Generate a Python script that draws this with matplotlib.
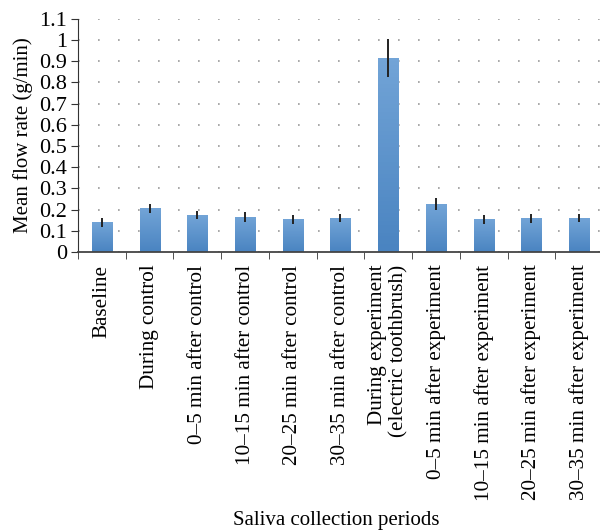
import matplotlib.pyplot as plt
import numpy as np
from matplotlib.colors import LinearSegmentedColormap

plt.rc('font', family='Liberation Serif', size=16)

periods = ["Baseline", "During control", "0\u20135 min after control",
           "10\u201315 min after control", "20\u201325 min after control",
           "30\u201335 min after control",
           "During experiment\n(electric toothbrush)",
           "0\u20135 min after experiment", "10\u201315 min after experiment",
           "20\u201325 min after experiment", "30\u201335 min after experiment"]
mean_flow = [0.141, 0.207, 0.174, 0.165, 0.155, 0.160, 0.915, 0.226, 0.155, 0.160, 0.160]
err_flow = [0.022, 0.021, 0.020, 0.025, 0.021, 0.020, 0.091, 0.029, 0.020, 0.022, 0.018]

fig = plt.figure(figsize=(6, 5.32), dpi=100)
ax = fig.add_axes([0.13, 0.526, 0.875, 0.439])

x = np.arange(len(periods))
bars = ax.bar(x, mean_flow, width=0.42, color='#5b94cd', zorder=2)

# vertical gradient inside each bar
grad = LinearSegmentedColormap.from_list('g', ['#4a84c1', '#72a4d7'])
for b in bars:
    bx, by = b.get_x(), b.get_y()
    im = ax.imshow(np.linspace(0, 1, 50).reshape(-1, 1), cmap=grad, origin='lower',
                   extent=[bx, bx + b.get_width(), by, by + b.get_height()],
                   aspect='auto', zorder=2.1)
    im.set_clip_path(b)

ax.errorbar(x, mean_flow, yerr=err_flow, fmt='none', ecolor='#222222',
            elinewidth=1.4, capsize=0, zorder=3)

ax.set_xlim(-0.5, 10.5)
ax.set_ylim(0, 1.1)
ax.set_yticks(np.arange(0, 1.11, 0.1))
ax.set_yticklabels(['0', '0.1', '0.2', '0.3', '0.4', '0.5', '0.6', '0.7', '0.8', '0.9', '1', '1.1'])
ax.yaxis.grid(True, linestyle=(0, (1, 11)), color='#999999', linewidth=1.2, zorder=0)

ax.set_xticks(x)
ax.set_xticklabels(periods, rotation=90, va='top', ha='center', multialignment='right',
                   fontsize=15.2)
ax.tick_params(axis='x', length=0, pad=9)
ax.set_xticks(np.arange(-0.5, 10.6, 1), minor=True)
ax.tick_params(axis='x', which='minor', length=5, direction='out', color='#333333')
ax.tick_params(axis='y', length=5, direction='out', color='#333333', pad=3)

for s in ['top', 'right']:
    ax.spines[s].set_visible(False)
ax.spines['left'].set_color('#333333')
ax.spines['bottom'].set_color('#444444')
ax.spines['bottom'].set_linewidth(1.3)

ax.set_ylabel("Mean flow rate (g/min)", fontsize=15, labelpad=4)
fig.text(0.56, 0.022, "Saliva collection periods", ha='center', va='center', fontsize=15)

plt.savefig('out.png', dpi=100)
